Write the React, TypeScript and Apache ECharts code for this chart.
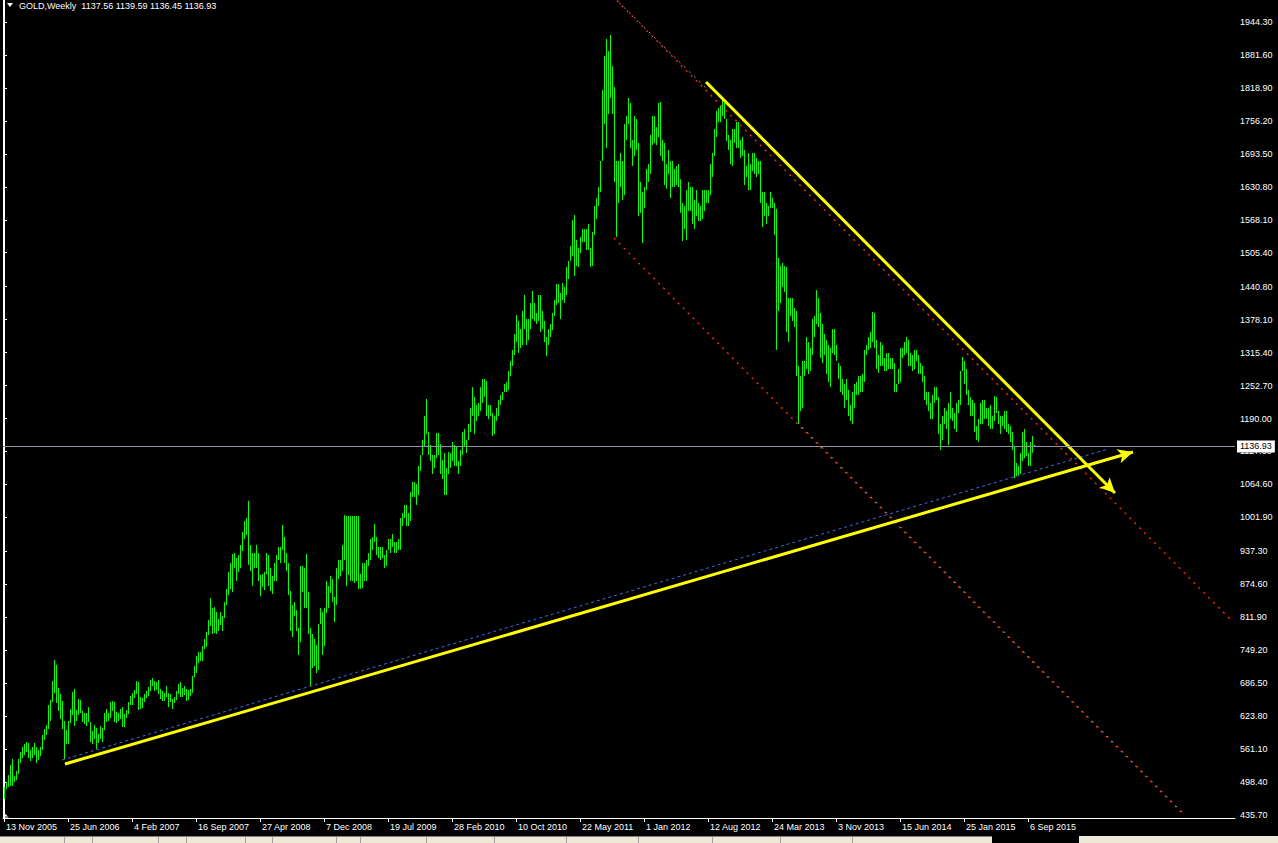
import React, { useEffect, useRef } from "react";
import * as echarts from "echarts";

// Weekly GOLD bars: [low, high] per week, weeks start on Sunday (first = 13 Nov 2005)
const bars2005: [number, number][] = [
  [466, 489], [485, 498], [489, 512], [491, 531], [491, 542], [498, 510], [502, 519],
];
const bars2006: [number, number][] = [
  [514, 542], [535, 556], [545, 566], [550, 570], [555, 575],
  [545, 573], [538, 560], [545, 565], [550, 572],
  [535, 565], [540, 560], [548, 565], [560, 588],
  [578, 600], [588, 606], [600, 645], [615, 655], [650, 690],
  [668, 730], [648, 722], [633, 678], [618, 665],
  [600, 652], [542, 615], [570, 598], [570, 615],
  [610, 638], [625, 670], [605, 676], [615, 635], [625, 656],
  [630, 655], [612, 633], [608, 630], [605, 630],
  [612, 642], [575, 612], [570, 595], [580, 607],
  [562, 602], [572, 590], [580, 605], [574, 601], [597, 630],
  [612, 638], [614, 630], [620, 650], [634, 652],
  [612, 650], [610, 632], [615, 630], [619, 637], [603, 642],
];
const bars2007: [number, number][] = [
  [603, 628], [620, 636], [627, 651], [645, 662],
  [645, 668], [658, 673], [665, 690], [636, 689],
  [638, 660], [640, 658], [650, 666], [659, 672],
  [663, 680], [672, 692], [682, 696], [672, 690], [673, 688],
  [665, 692], [656, 676], [652, 671], [652, 668],
  [660, 682], [642, 667], [650, 665], [638, 656],
  [648, 660], [655, 672], [665, 685], [660, 688], [661, 678],
  [664, 682], [652, 676], [655, 674], [662, 675],
  [668, 700], [698, 720], [706, 738], [725, 746], [728, 746],
  [728, 758], [752, 771], [756, 784], [778, 806],
  [795, 848], [780, 830], [782, 832], [780, 822],
  [785, 808], [798, 822], [785, 815], [810, 840], [835, 866],
];
const bars2008: [number, number][] = [
  [855, 898], [866, 915], [860, 932], [905, 935],
  [880, 925], [898, 930], [905, 950], [938, 975],
  [960, 995], [968, 1000], [912, 1033], [900, 950], [872, 935],
  [905, 935], [905, 950], [880, 935], [852, 892],
  [870, 895], [864, 898], [895, 935], [872, 930],
  [862, 905], [856, 890], [880, 915], [880, 930], [920, 945],
  [915, 945], [940, 988], [915, 965], [900, 935],
  [855, 915], [786, 862], [775, 835], [815, 840], [785, 825],
  [740, 792], [765, 910], [860, 910], [830, 905],
  [830, 933], [780, 860], [681, 792], [715, 780],
  [720, 770], [705, 760], [712, 800], [800, 830], [740, 822],
  [758, 830], [820, 880], [830, 872], [858, 890],
];
const bars2009: [number, number][] = [
  [840, 885], [802, 850], [835, 905], [885, 920],
  [890, 920], [900, 950], [920, 1007], [871, 1005],
  [892, 1005], [880, 1005], [880, 1005], [878, 1005], [880, 1005],
  [866, 1005], [865, 895], [868, 915], [880, 915],
  [880, 920], [910, 935], [920, 960], [940, 965], [955, 990],
  [930, 965], [925, 945], [920, 945], [925, 945],
  [905, 930], [910, 940], [940, 960], [935, 960],
  [945, 970], [935, 955], [935, 955], [940, 960], [940, 1000],
  [985, 1010], [1000, 1025], [985, 1025], [985, 1010],
  [995, 1050], [1040, 1070], [1040, 1070], [1025, 1065],
  [1045, 1100], [1090, 1120], [1120, 1150], [1135, 1195], [1160, 1227],
  [1120, 1165], [1110, 1140], [1085, 1120], [1095, 1120],
];
const bars2010: [number, number][] = [
  [1115, 1162], [1120, 1162], [1085, 1142], [1075, 1112], [1045, 1125],
  [1045, 1095], [1085, 1126], [1095, 1125], [1110, 1145],
  [1100, 1140], [1100, 1135], [1085, 1110], [1100, 1130],
  [1120, 1165], [1135, 1170], [1125, 1150], [1150, 1180],
  [1165, 1210], [1195, 1250], [1160, 1230], [1185, 1215], [1195, 1220],
  [1205, 1250], [1220, 1265], [1230, 1265], [1195, 1262],
  [1190, 1215], [1195, 1215], [1157, 1200], [1160, 1195],
  [1185, 1210], [1195, 1225], [1215, 1235], [1225, 1240], [1240, 1255],
  [1240, 1260], [1245, 1280], [1270, 1300], [1290, 1320],
  [1310, 1350], [1335, 1387], [1315, 1375], [1325, 1360], [1330, 1395],
  [1360, 1425], [1330, 1380], [1340, 1380], [1360, 1410],
  [1380, 1432], [1375, 1410], [1370, 1390], [1375, 1425],
];
const bars2011: [number, number][] = [
  [1355, 1425], [1360, 1395], [1335, 1375], [1308, 1345], [1330, 1360],
  [1345, 1370], [1358, 1390], [1385, 1415], [1405, 1445],
  [1410, 1445], [1380, 1428], [1415, 1448], [1410, 1440],
  [1425, 1478], [1455, 1490], [1490, 1518], [1500, 1568],
  [1462, 1577], [1480, 1530], [1478, 1515], [1505, 1535], [1525, 1550],
  [1525, 1550], [1510, 1550], [1510, 1560], [1478, 1515],
  [1480, 1545], [1540, 1595], [1570, 1610], [1595, 1630], [1620, 1680],
  [1680, 1815], [1750, 1880], [1705, 1912], [1770, 1890],
  [1800, 1920], [1770, 1860], [1640, 1820], [1535, 1680],
  [1600, 1680], [1630, 1695], [1605, 1680], [1615, 1750], [1720, 1765],
  [1750, 1800], [1705, 1790], [1670, 1720], [1690, 1765],
  [1700, 1760], [1575, 1715], [1580, 1640], [1523, 1620],
];
const bars2012: [number, number][] = [
  [1590, 1630], [1625, 1665], [1640, 1675], [1655, 1730], [1710, 1765],
  [1715, 1765], [1710, 1745], [1725, 1790], [1690, 1792],
  [1680, 1720], [1635, 1715], [1627, 1675], [1655, 1700],
  [1610, 1680], [1630, 1680], [1630, 1665], [1635, 1670], [1630, 1675],
  [1580, 1645], [1527, 1600], [1550, 1595], [1530, 1625],
  [1585, 1640], [1585, 1630], [1560, 1630], [1550, 1605],
  [1575, 1625], [1565, 1600], [1565, 1595], [1570, 1625], [1585, 1625],
  [1600, 1625], [1600, 1625], [1615, 1675], [1650, 1695],
  [1690, 1740], [1725, 1775], [1755, 1780], [1755, 1785], [1765, 1795],
  [1760, 1790], [1718, 1760], [1700, 1730], [1675, 1720],
  [1670, 1740], [1715, 1740], [1705, 1755], [1705, 1755],
  [1685, 1720], [1690, 1725], [1635, 1700], [1650, 1670], [1625, 1695],
];
const bars2013: [number, number][] = [
  [1625, 1675], [1660, 1695], [1655, 1695], [1650, 1685],
  [1655, 1680], [1600, 1680], [1555, 1620], [1575, 1620],
  [1560, 1600], [1575, 1595], [1590, 1620], [1590, 1610], [1540, 1600],
  [1321, 1588], [1395, 1495], [1410, 1480], [1440, 1485],
  [1430, 1480], [1355, 1478], [1335, 1420], [1385, 1420],
  [1375, 1420], [1365, 1400], [1270, 1395], [1180, 1290], [1205, 1270],
  [1210, 1300], [1270, 1300], [1285, 1345], [1275, 1335],
  [1280, 1325], [1310, 1380], [1345, 1385], [1370, 1434],
  [1365, 1420], [1305, 1390], [1295, 1370], [1310, 1350], [1275, 1340],
  [1260, 1330], [1250, 1325], [1315, 1360], [1310, 1360],
  [1300, 1330], [1265, 1295], [1240, 1290], [1235, 1265],
  [1210, 1255], [1225, 1265], [1195, 1245], [1185, 1215], [1180, 1240],
];
const bars2014: [number, number][] = [
  [1210, 1255], [1235, 1260], [1235, 1270], [1240, 1270],
  [1240, 1275], [1260, 1320], [1310, 1330], [1320, 1345],
  [1325, 1355], [1335, 1392], [1325, 1390], [1285, 1340], [1277, 1310],
  [1290, 1335], [1290, 1330], [1280, 1305], [1280, 1315],
  [1285, 1315], [1285, 1305], [1285, 1305], [1240, 1295],
  [1240, 1255], [1255, 1285], [1260, 1325], [1305, 1325], [1310, 1335],
  [1315, 1345], [1290, 1340], [1290, 1315], [1280, 1310],
  [1285, 1320], [1300, 1320], [1275, 1310], [1275, 1295], [1260, 1290],
  [1225, 1270], [1215, 1240], [1205, 1240], [1190, 1220],
  [1190, 1235], [1220, 1250], [1225, 1250], [1160, 1230],
  [1130, 1180], [1150, 1195], [1180, 1210], [1170, 1205], [1140, 1220],
  [1190, 1240], [1185, 1210], [1170, 1200], [1165, 1220],
];
const bars2015: [number, number][] = [
  [1200, 1225], [1215, 1280], [1280, 1307], [1255, 1300],
  [1235, 1285], [1215, 1245], [1195, 1230], [1195, 1225],
  [1165, 1220], [1150, 1175], [1145, 1190], [1180, 1220], [1180, 1225],
  [1190, 1225], [1190, 1210], [1175, 1210], [1170, 1215],
  [1170, 1195], [1185, 1232], [1200, 1230], [1180, 1205], [1160, 1195],
  [1175, 1195], [1170, 1205], [1165, 1205], [1160, 1180],
  [1145, 1175], [1130, 1165], [1077, 1135], [1080, 1105],
  [1080, 1100], [1085, 1125], [1110, 1165], [1115, 1170], [1118, 1145],
  [1100, 1125], [1100, 1145], [1125, 1157], [1136.45, 1139.59],
];

const weeklyBars = [
  ...bars2005, ...bars2006, ...bars2007, ...bars2008, ...bars2009, ...bars2010,
  ...bars2011, ...bars2012, ...bars2013, ...bars2014, ...bars2015,
];

const xTickLabels = [
  "13 Nov 2005", "25 Jun 2006", "4 Feb 2007", "16 Sep 2007", "27 Apr 2008",
  "7 Dec 2008", "19 Jul 2009", "28 Feb 2010", "10 Oct 2010", "22 May 2011",
  "1 Jan 2012", "12 Aug 2012", "24 Mar 2013", "3 Nov 2013", "15 Jun 2014",
  "25 Jan 2015", "6 Sep 2015",
];
const weeksPerXTick = 32;
const yTickValues = [
  1944.3, 1881.6, 1818.9, 1756.2, 1693.5, 1630.8, 1568.1, 1505.4, 1440.8,
  1378.1, 1315.4, 1252.7, 1190.0, 1127.3, 1064.6, 1001.9, 937.3, 874.6,
  811.9, 749.2, 686.5, 623.8, 561.1, 498.4, 435.7,
];
const lastQuote = { open: 1137.56, high: 1139.59, low: 1136.45, close: 1136.93 };
const totalWeekSlots = 616; // bars + empty shift area on the right
const priceMin = 430.0;
const priceMax = 1986.15;

// Drawn objects, as [bar index, price]
const supportTrend = [[30.5, 532.7], [564.5, 1126.3]];
const resistanceTrend = [[351, 1830.1], [555.5, 1048.3]];
const blueTrend = [[29, 540.3], [552, 1132.0]];
const channelUpper = [[306.5, 1985], [614.5, 803]];
const channelLower = [[305, 1533.4], [590, 435.7]];
const channelRayTop = [[306.5, 1985], [351, 1818.7]];
const channelRayBottom = [[398, 1177.6], [590.5, 435.7]];

const FONT = "Liberation Sans, Arial, sans-serif";

export default function App() {
  const ref = useRef<HTMLDivElement>(null);
  useEffect(() => {
    if (!ref.current) return;
    const chart = echarts.init(ref.current, undefined, { renderer: "svg" });
    const xTicks = xTickLabels.map((_, k) => k * weeksPerXTick);
    const seg = (pts: number[][], lineStyle: any, endSymbol = "none") => [
      { coord: pts[0], symbol: "none", lineStyle, label: { show: false } },
      { coord: pts[1], symbol: endSymbol, symbolSize: [11, 15] },
    ];
    const redDots = { color: "#ff2a00", width: 1.4, type: [2, 5] };
    const grayDots = { color: "#9a9a9a", width: 1, type: [2, 5], dashOffset: 3.5 };
    chart.setOption({
      animation: false,
      backgroundColor: "#000000",
      grid: { left: 3, right: 43, top: 0, bottom: 25, containLabel: false },
      xAxis: {
        type: "value",
        min: -0.5,
        max: totalWeekSlots - 0.5,
        position: "bottom",
        axisLine: { show: true, lineStyle: { color: "#ffffff", width: 1 } },
        splitLine: { show: false },
        axisTick: { show: true, customValues: xTicks, length: 4, lineStyle: { color: "#ffffff" } },
        axisLabel: {
          show: true,
          customValues: xTicks,
          formatter: (v: number) => xTickLabels[Math.round(v / weeksPerXTick)] ?? "",
          color: "#ffffff",
          fontSize: 9,
          fontFamily: FONT,
          align: "left",
          margin: 4,
          padding: [0, 0, 0, 2],
        },
      },
      yAxis: [
        {
          type: "value",
          position: "right",
          min: priceMin,
          max: priceMax,
          axisLine: { show: true, lineStyle: { color: "#ffffff", width: 1 } },
          splitLine: { show: false },
          axisTick: { show: true, customValues: yTickValues, length: 3, lineStyle: { color: "#ffffff" } },
          axisLabel: {
            show: true,
            customValues: yTickValues,
            formatter: (v: number) => v.toFixed(2),
            color: "#ffffff",
            fontSize: 9,
            fontFamily: FONT,
            margin: 5,
          },
        },
        {
          type: "value",
          position: "left",
          min: priceMin,
          max: priceMax,
          axisLine: { show: true, lineStyle: { color: "#ffffff", width: 1 } },
          axisTick: { show: false },
          axisLabel: { show: false },
          splitLine: { show: false },
        },
      ],
      series: [
        {
          name: "GOLD",
          type: "custom",
          coordinateSystem: "cartesian2d",
          xAxisIndex: 0,
          yAxisIndex: 0,
          data: weeklyBars.map((b, i) => [i, b[0], b[1]]),
          encode: { x: 0, y: [1, 2] },
          renderItem: (_params: any, api: any) => {
            const i = api.value(0);
            const lo = api.coord([i, api.value(1)]);
            const hi = api.coord([i, api.value(2)]);
            const top = Math.round(hi[1]);
            const bottom = Math.round(lo[1]);
            return {
              type: "rect",
              shape: { x: Math.floor(lo[0]), y: top, width: 1, height: Math.max(1, bottom - top) },
              style: { fill: "#00ff00" },
            };
          },
          markLine: {
            silent: true,
            symbol: "none",
            animation: false,
            label: { show: false },
            data: [
              seg(channelUpper, redDots),
              seg(channelLower, redDots),
              seg(channelRayTop, grayDots),
              seg(channelRayBottom, grayDots),
              seg(blueTrend, { color: "#4169e1", width: 1, type: [3, 3] }),
              seg(supportTrend, { color: "#ffff00", width: 3, type: "solid" }, "arrow"),
              seg(resistanceTrend, { color: "#ffff00", width: 3, type: "solid" }, "arrow"),
              {
                yAxis: lastQuote.close,
                symbol: "none",
                lineStyle: { color: "#8d95a3", width: 1, type: "solid" },
                label: {
                  show: true,
                  position: "end",
                  formatter: lastQuote.close.toFixed(2),
                  backgroundColor: "#ffffff",
                  color: "#000000",
                  fontSize: 9,
                  fontFamily: FONT,
                  padding: [2, 3, 1, 3],
                  distance: 2,
                },
              },
            ],
          },
        },
      ],
      graphic: [
        { type: "polygon", shape: { points: [[7, 3], [13, 3], [10, 7]] }, style: { fill: "#ffffff" } },
        {
          type: "text",
          x: 19,
          y: 1,
          style: {
            text: `GOLD,Weekly  ${lastQuote.open.toFixed(2)} ${lastQuote.high.toFixed(2)} ${lastQuote.low.toFixed(2)} ${lastQuote.close.toFixed(2)}`,
            fill: "#ffffff",
            fontSize: 9,
            fontFamily: FONT,
          },
        },
        { type: "polygon", shape: { points: [[4, 812], [4, 818], [9, 818]] }, style: { fill: "#8890a0" } },
        { type: "rect", shape: { x: 0, y: 836, width: 992, height: 7 }, style: { fill: "#ece9d8" } },
        { type: "rect", shape: { x: 1079, y: 836, width: 199, height: 7 }, style: { fill: "#ece9d8" } },
        { type: "line", shape: { x1: 0, y1: 836.5, x2: 992, y2: 836.5 }, style: { stroke: "#808080", lineWidth: 1 } },
        ...[64, 92, 158, 186, 245, 272, 336, 360, 426, 494, 566, 638, 712, 780, 852].map((x) => ({
          type: "line",
          shape: { x1: x + 0.5, y1: 837, x2: x + 0.5, y2: 843 },
          style: { stroke: "#a0a0a0", lineWidth: 1 },
        })),
      ],
    });
    return () => chart.dispose();
  }, []);
  return (
    <div
      ref={ref}
      style={{ position: "fixed", left: 0, top: 0, width: 1278, height: 843, background: "#000" }}
    />
  );
}
